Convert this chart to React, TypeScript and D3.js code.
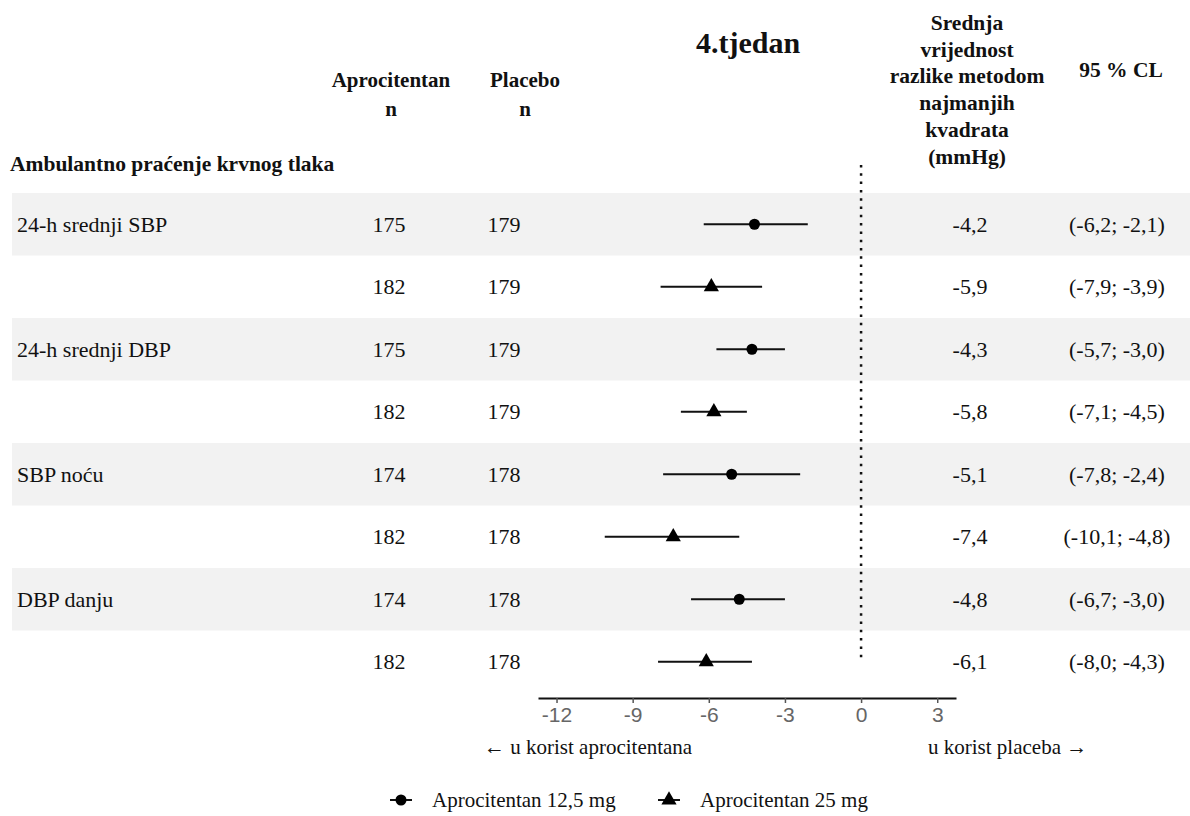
import { useEffect, useRef } from "react";
import * as d3 from "d3";

// rows of the forest plot (two doses per endpoint)
const rowLabels = ["24-h srednji SBP", "", "24-h srednji DBP", "", "SBP noću", "", "DBP danju", ""];
const aproN = [175, 182, 175, 182, 174, 182, 174, 182];
const placeboN = [179, 179, 179, 179, 178, 178, 178, 178];
const estimate = [-4.2, -5.9, -4.3, -5.8, -5.1, -7.4, -4.8, -6.1];
const ciLow = [-6.2, -7.9, -5.7, -7.1, -7.8, -10.1, -6.7, -8.0];
const ciHigh = [-2.1, -3.9, -3.0, -4.5, -2.4, -4.8, -3.0, -4.3];
const dose = ["12,5 mg", "25 mg", "12,5 mg", "25 mg", "12,5 mg", "25 mg", "12,5 mg", "25 mg"];
const xTicks = [-12, -9, -6, -3, 0, 3];
const legendItems = ["Aprocitentan  12,5 mg", "Aprocitentan  25 mg"];
const meanHeader = ["Srednja", "vrijednost", "razlike  metodom", "najmanjih", "kvadrata", "(mmHg)"];

const App = () => {
  const svgRef = useRef();

  useEffect(() => {
    const svg = d3.select(svgRef.current);
    svg.selectAll("*").remove();
    svg.style("font-family", "'Liberation Serif', 'Times New Roman', serif").style("white-space", "pre");

    const x = d3.scaleLinear().domain([-12.73, 3.74]).range([538, 956]);
    const y = d3.scaleBand().domain(d3.range(rowLabels.length)).range([193, 693]);
    const fmt = (v) => d3.format(".1f")(v).replace(".", ",").replace("−", "-");
    const sym = (d) => d3.symbol(d === "25 mg" ? d3.symbolTriangle : d3.symbolCircle, d === "25 mg" ? 100 : 95)();

    // shaded bands for every first row of an endpoint
    svg.selectAll("rect.band")
      .data(d3.range(0, rowLabels.length, 2))
      .enter()
      .append("rect")
      .attr("x", 12)
      .attr("width", 1178)
      .attr("y", (i) => y(i))
      .attr("height", y.bandwidth())
      .attr("fill", "#f2f2f2");

    // headers
    const hdr = svg.append("g").style("font-weight", "bold").attr("fill", "#111");
    const htext = (t, cx, cy, size, anchor = "middle") =>
      hdr.append("text").attr("x", cx).attr("y", cy).style("font-size", size + "px")
        .attr("text-anchor", anchor).attr("dominant-baseline", "central").text(t);
    htext("4.tjedan", 748, 42, 30);
    htext("Aprocitentan", 391, 80, 21);
    htext("n", 391, 109, 21);
    htext("Placebo", 525, 80, 21);
    htext("n", 525, 109, 21);
    htext("Ambulantno praćenje krvnog tlaka", 10, 164, 21.5, "start");
    meanHeader.forEach((t, i) => htext(t, 967, 23 + i * 26.7, 21.5));
    htext("95 % CL", 1121, 70, 21.5);

    // table columns
    const rows = svg.selectAll("g.row")
      .data(d3.range(rowLabels.length))
      .enter()
      .append("g")
      .attr("transform", (i) => `translate(0,${y(i) + y.bandwidth() / 2})`)
      .style("font-size", "22px")
      .attr("fill", "#111");
    rows.append("text").attr("x", 17).attr("dominant-baseline", "central").text((i) => rowLabels[i]);
    rows.append("text").attr("x", 389).attr("text-anchor", "middle").attr("dominant-baseline", "central").text((i) => aproN[i]);
    rows.append("text").attr("x", 504).attr("text-anchor", "middle").attr("dominant-baseline", "central").text((i) => placeboN[i]);
    rows.append("text").attr("x", 970).attr("text-anchor", "middle").attr("dominant-baseline", "central").text((i) => fmt(estimate[i]));
    rows.append("text").attr("x", 1117).attr("text-anchor", "middle").attr("dominant-baseline", "central")
      .text((i) => `(${fmt(ciLow[i])}; ${fmt(ciHigh[i])})`);

    // reference line at 0
    svg.append("line")
      .attr("x1", x(0)).attr("x2", x(0))
      .attr("y1", 165).attr("y2", 662)
      .attr("stroke", "#111").attr("stroke-width", 2.5)
      .attr("stroke-dasharray", "2.5,5.8");

    // CI lines + markers
    rows.append("line")
      .attr("x1", (i) => x(ciLow[i])).attr("x2", (i) => x(ciHigh[i]))
      .attr("stroke", "#111").attr("stroke-width", 2);
    rows.append("path")
      .attr("transform", (i) => `translate(${x(estimate[i])},0)`)
      .attr("d", (i) => sym(dose[i]))
      .attr("fill", "#000");

    // axis
    const axis = svg.append("g")
      .attr("transform", "translate(0,698)")
      .call(d3.axisBottom(x).tickValues(xTicks).tickSize(5).tickSizeOuter(0).tickPadding(4)
        .tickFormat((d) => String(d)));
    axis.select(".domain").attr("stroke", "#111").attr("stroke-width", 2);
    axis.selectAll(".tick line").attr("stroke", "#555").attr("stroke-width", 1.5);
    axis.selectAll(".tick text").style("font-family", "inherit").style("font-size", "21px").attr("fill", "#666");

    svg.append("text").attr("x", 484).attr("y", 747).style("font-size", "21px")
      .attr("dominant-baseline", "central").attr("fill", "#111")
      .text("←  u korist aprocitentana");
    svg.append("text").attr("x", 928).attr("y", 747).style("font-size", "21px")
      .attr("dominant-baseline", "central").attr("fill", "#111").text("u korist placeba →");

    // legend
    const leg = svg.selectAll("g.leg")
      .data(legendItems)
      .enter()
      .append("g")
      .attr("transform", (d, i) => `translate(${[401, 669][i]},800)`);
    leg.append("line").attr("x1", -11).attr("x2", 11).attr("stroke", "#111").attr("stroke-width", 2);
    leg.append("path").attr("d", (d, i) => sym(i === 1 ? "25 mg" : "12,5 mg")).attr("fill", "#000");
    leg.append("text").attr("x", 31).style("font-size", "21px")
      .attr("dominant-baseline", "central").attr("fill", "#111").text((d) => d);
  }, []);

  return (
    <svg
      ref={svgRef}
      width={1190}
      height={816}
      style={{ position: "absolute", left: 0, top: 0, background: "#fff" }}
    />
  );
};

export default App;
